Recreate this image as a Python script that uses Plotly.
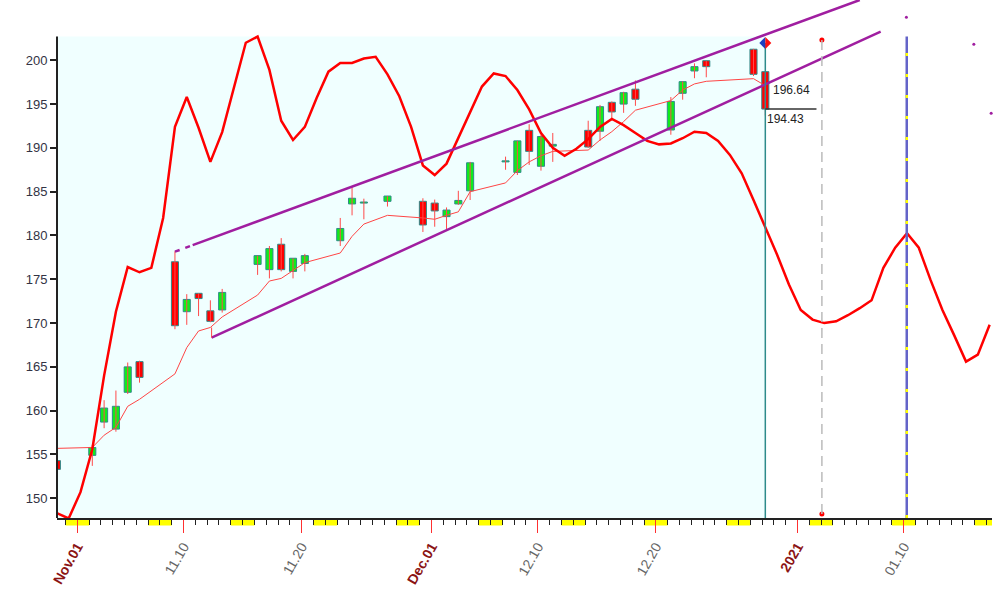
import pandas as pd
import plotly.graph_objects as go

# ---------------- data ----------------
dates = ["2020-10-30", "2020-11-02", "2020-11-03", "2020-11-04", "2020-11-05", "2020-11-06",
         "2020-11-09", "2020-11-10", "2020-11-11", "2020-11-12", "2020-11-13",
         "2020-11-16", "2020-11-17", "2020-11-18", "2020-11-19", "2020-11-20",
         "2020-11-23", "2020-11-24", "2020-11-25", "2020-11-27",
         "2020-11-30", "2020-12-01", "2020-12-02", "2020-12-03", "2020-12-04",
         "2020-12-07", "2020-12-08", "2020-12-09", "2020-12-10", "2020-12-11",
         "2020-12-14", "2020-12-15", "2020-12-16", "2020-12-17", "2020-12-18",
         "2020-12-21", "2020-12-22", "2020-12-23", "2020-12-24",
         "2020-12-28", "2020-12-29"]
opens = [154.3, 154.9, 158.7, 157.9, 162.1, 165.6, 177.0, 171.3, 173.4, 171.4, 171.5,
         176.7, 176.1, 179.0, 175.9, 176.8, 179.4, 183.6, 183.7, 183.9,
         183.9, 183.7, 182.15, 183.6, 185.1, 188.4, 187.2, 192.0, 187.9, 190.2,
         192.0, 191.9, 195.2, 195.0, 196.7, 192.04, 196.23, 198.78, 199.95, 201.26, 198.7]
closes = [153.3, 155.8, 160.3, 160.5, 165.0, 163.8, 169.7, 172.7, 172.8, 170.2, 173.5,
          177.7, 178.5, 176.1, 177.4, 177.7, 180.8, 184.25, 183.7, 184.5,
          181.2, 182.8, 182.9, 184.0, 188.3, 188.4, 190.8, 189.6, 191.3, 190.4,
          190.1, 194.7, 194.1, 196.3, 195.55, 195.3, 197.56, 199.27, 199.27, 198.4, 194.43]
highs = [155.3, 156.1, 161.2, 162.3, 165.5, 165.7, 178.2, 173.3, 173.4, 172.6, 173.9,
         177.7, 178.8, 179.7, 177.4, 177.9, 182.0, 185.5, 184.2, 184.5,
         184.25, 184.1, 183.2, 185.1, 188.4, 189.0, 190.8, 192.7, 191.5, 191.7,
         193.1, 194.9, 195.3, 196.4, 197.7, 195.8, 197.6, 199.65, 199.95, 201.3, 198.7]
lows = [151.3, 153.7, 158.0, 157.6, 161.9, 163.2, 169.3, 169.8, 170.8, 170.1, 171.2,
        175.5, 175.1, 175.9, 175.1, 175.9, 178.8, 182.3, 181.85, 183.3,
        180.4, 181.0, 180.7, 183.5, 184.05, 187.5, 186.9, 188.05, 187.4, 188.4,
        190.0, 190.8, 193.1, 194.0, 194.8, 191.5, 195.5, 197.95, 198.06, 198.2, 193.7]
ma_values = [155.7, 155.8, 157.2, 158.1, 160.5, 161.3, 164.2, 167.2, 169.1, 169.5, 170.7,
             173.2, 174.8, 175.1, 176.0, 176.9, 178.0, 179.9, 181.3, 182.3,
             182.0, 181.85, 182.3, 182.7, 185.0, 186.0, 187.4, 188.4, 189.1, 189.6,
             189.75, 190.9, 191.85, 193.0, 194.3, 195.4, 196.6, 197.3, 197.6, 197.9, 197.1]

cycle_start = "2020-10-30"
cycle_values = [148.3, 147.7, 150.7, 155.6, 164.0, 171.3, 176.4, 175.8, 176.3, 182.0,
                192.4, 195.8, 192.3, 188.4, 191.8, 196.8, 202.0, 202.7, 198.9, 193.1,
                190.9, 192.4, 195.7, 198.7, 199.7, 199.7, 200.2, 200.4, 198.4, 195.9,
                192.4, 188.0, 186.9, 188.2, 191.2, 194.2, 197.0, 198.5, 198.2, 196.6,
                194.4, 191.7, 190.0, 189.1, 189.9, 191.0, 192.4, 193.3, 192.6, 191.7,
                190.8, 190.4, 190.5, 191.1, 191.85, 191.7, 190.8, 189.2, 187.1, 184.05,
                180.9, 177.8, 174.4, 171.5, 170.4, 170.0, 170.2, 170.9, 171.7, 172.6,
                176.3, 178.6, 180.25, 178.6, 174.9, 171.5, 168.6, 165.6, 166.4, 169.8]

# channel lines (start date/time, start value, end date/time, end value)
upper_channel = ["2020-11-09 06:30", 178.15, "2021-01-06 06:30", 206.88]
lower_channel = ["2020-11-12 09:00", 168.33, "2021-01-08 01:00", 203.26]

tick_dates = ["2020-11-01", "2020-11-10", "2020-11-20", "2020-12-01",
              "2020-12-10", "2020-12-20", "2021-01-01", "2021-01-10"]
tick_labels = ["Nov.01", "11.10", "11.20", "Dec.01", "12.10", "12.20", "2021", "01.10"]
month_labels = {"Nov.01", "Dec.01", "2021"}

label_upper = 196.64
cycle_line_date = "2021-01-10 06:00"
marker_line_date = "2021-01-03 01:30"
close_line_end = "2021-01-02 14:30"
purple_dots_x = ["2021-01-10 05:15", "2021-01-15 22:20", "2021-01-17 09:35"]
purple_dots_y = [204.9, 201.83, 193.95]

# ---------------- derived ----------------
offset = pd.Timedelta(hours=6.5)
xs = pd.to_datetime(dates) + offset
cx = pd.date_range(cycle_start, periods=len(cycle_values), freq="D") + offset
x_left = pd.Timestamp("2020-10-30 06:45")
x_right = pd.Timestamp("2021-01-17 11:17")
y_bottom, y_top, plot_top = 147.75, 206.88, 202.7
last_x = xs[-1]

GREEN = "#10EC1C"
RED = "#FF0000"
TEAL = "#2E8B8B"
PURPLE = "#A01EA0"

fig = go.Figure()

# thin moving average
fig.add_trace(go.Scatter(x=[x_left] + list(xs[1:]), y=[ma_values[0]] + ma_values[1:],
                         mode="lines", line=dict(color="#FF4545", width=1), hoverinfo="skip"))

# wicks
wx, wy = [], []
for x, h, l in zip(xs, highs, lows):
    wx += [x, x, None]
    wy += [l, h, None]
fig.add_trace(go.Scatter(x=wx, y=wy, mode="lines", line=dict(color="#FF4A4A", width=1),
                         hoverinfo="skip", cliponaxis=False))

# bodies
base = [min(o, c) for o, c in zip(opens, closes)]
height = [max(abs(c - o), 0.12) for o, c in zip(opens, closes)]
colors = [GREEN if c >= o else RED for o, c in zip(opens, closes)]
fig.add_trace(go.Bar(x=xs, y=height, base=base, width=0.6 * 86400000,
                     marker=dict(color=colors, line=dict(color=TEAL, width=1)),
                     cliponaxis=False, hoverinfo="skip"))

# thick cycle line
fig.add_trace(go.Scatter(x=cx, y=cycle_values, mode="lines",
                         line=dict(color="#FF0000", width=2.5), hoverinfo="skip"))

# red dots on dashed marker line
fig.add_trace(go.Scatter(x=[marker_line_date, marker_line_date], y=[202.3, 148.2], mode="markers",
                         marker=dict(color="#FF0000", size=5), hoverinfo="skip", cliponaxis=False))
# purple dots
fig.add_trace(go.Scatter(x=purple_dots_x, y=purple_dots_y, mode="markers",
                         marker=dict(color=PURPLE, size=3), hoverinfo="skip", cliponaxis=False))

shapes = []
# background
shapes.append(dict(type="rect", xref="x", yref="y", x0=x_left, x1=last_x, y0=y_bottom, y1=plot_top,
                   fillcolor="#F0FFFF", line=dict(width=0), layer="below"))
# weekends
sats = pd.date_range("2020-10-31", "2021-01-16", freq="7D")
for s in sats:
    shapes.append(dict(type="rect", xref="x", yref="paper", x0=max(s, x_left),
                       x1=min(s + pd.Timedelta(days=2), x_right), y0=-0.0145, y1=-0.002,
                       fillcolor="#FFFF00", line=dict(width=0), layer="below"))
# left axis line
shapes.append(dict(type="line", xref="paper", yref="y", x0=0, x1=0, y0=y_bottom, y1=plot_top,
                   line=dict(color="#222222", width=2)))
# channel lines
u0, uv0, u1, uv1 = upper_channel
ud0, ud1 = pd.Timestamp(u0), pd.Timestamp(u1)
slope_u = (uv1 - uv0) / ((ud1 - ud0) / pd.Timedelta(days=1))
u_mid = ud0 + pd.Timedelta(days=1.5)
u_mid_v = uv0 + slope_u * 1.5
shapes.append(dict(type="line", xref="x", yref="y", x0=ud0, y0=uv0, x1=u_mid, y1=u_mid_v,
                   line=dict(color=PURPLE, width=2.5, dash="5px,6px")))
shapes.append(dict(type="line", xref="x", yref="y", x0=u_mid, y0=u_mid_v, x1=ud1, y1=uv1,
                   line=dict(color=PURPLE, width=2.5)))
l0, lv0, l1, lv1 = lower_channel
shapes.append(dict(type="line", xref="x", yref="y", x0=l0, y0=lv0, x1=l1, y1=lv1,
                   line=dict(color=PURPLE, width=2.5)))
shapes.append(dict(type="line", xref="x", yref="y", x0=l0, y0=lv0, x1=l0, y1=ma_values[9],
                   line=dict(color="#FF4545", width=1)))
# teal cursor line
shapes.append(dict(type="line", xref="x", yref="y", x0=last_x, x1=last_x, y0=y_bottom, y1=201.97,
                   line=dict(color=TEAL, width=1.5)))
# gray dashed marker
shapes.append(dict(type="line", xref="x", yref="y", x0=marker_line_date, x1=marker_line_date,
                   y0=148.2, y1=202.3, line=dict(color="#BBBBBB", width=1.5, dash="10px,6px")))
# blue/yellow cycle line
shapes.append(dict(type="line", xref="x", yref="y", x0=cycle_line_date, x1=cycle_line_date,
                   y0=y_bottom, y1=plot_top, line=dict(color="#6464C8", width=2.5)))
shapes.append(dict(type="line", xref="x", yref="y", x0=cycle_line_date, x1=cycle_line_date,
                   y0=y_bottom, y1=plot_top, line=dict(color="#FFFF00", width=2.5, dash="3px,18px")))
# close line
shapes.append(dict(type="line", xref="x", yref="y", x0=last_x, x1=close_line_end,
                   y0=closes[-1], y1=closes[-1], line=dict(color="#333333", width=1.5)))
# diamond
shapes.append(dict(type="path", xref="x", yref="y", xsizemode="pixel", ysizemode="pixel",
                   xanchor=last_x, yanchor=201.97, path="M0,6 L-6,0 L0,-6 Z",
                   fillcolor="#1F3FBF", line=dict(width=0)))
shapes.append(dict(type="path", xref="x", yref="y", xsizemode="pixel", ysizemode="pixel",
                   xanchor=last_x, yanchor=201.97, path="M0,6 L6,0 L0,-6 Z",
                   fillcolor="#FF1010", line=dict(width=0)))

annotations = [
    dict(x=last_x, y=label_upper, xref="x", yref="y", text=f"{label_upper:.2f}", showarrow=False,
         xanchor="left", yanchor="middle", xshift=6, font=dict(size=12, color="#222222")),
    dict(x=last_x, y=closes[-1], xref="x", yref="y", text=f"{closes[-1]:.2f}", showarrow=False,
         xanchor="left", yanchor="top", xshift=0, yshift=-1, font=dict(size=12, color="#222222")),
]

ticktext = []
for t in tick_labels:
    if t in month_labels:
        ticktext.append(f"<b><span style='color:#8B1414'>{t}</span></b>")
    else:
        ticktext.append(f"<span style='color:#666666'>{t}</span>")

fig.update_layout(
    width=1000, height=597,
    margin=dict(l=57, r=8, t=0, b=79, autoexpand=False),
    paper_bgcolor="white", plot_bgcolor="white",
    showlegend=False, barmode="overlay",
    font=dict(family="Liberation Sans, Arial, sans-serif"),
    shapes=shapes, annotations=annotations,
    xaxis=dict(type="date", range=[x_left, x_right], tickmode="array", automargin=False,
               tickvals=tick_dates, ticktext=ticktext, tickangle=-60,
               ticks="outside", ticklen=13, tickcolor="#FF3030", tickwidth=1,
               tickfont=dict(size=14, color="#666666"),
               showline=True, linecolor="#222222", linewidth=2,
               showgrid=False, zeroline=False,
               minor=dict(ticks="outside", ticklen=5, tickcolor="#222222", tickwidth=1,
                          dtick=86400000, tick0="2020-11-01", showgrid=False)),
    yaxis=dict(range=[y_bottom, y_top], tickmode="array", automargin=False,
               tickvals=[150, 155, 160, 165, 170, 175, 180, 185, 190, 195, 200],
               ticks="outside", ticklen=6, tickcolor="#222222", tickwidth=1.5,
               tickfont=dict(size=13, color="#333344"),
               showline=False, showgrid=False, zeroline=False),
)

fig.write_html("out.html", config={"displayModeBar": False},
               post_script="document.body.style.margin='0';document.body.style.overflow='hidden';")
